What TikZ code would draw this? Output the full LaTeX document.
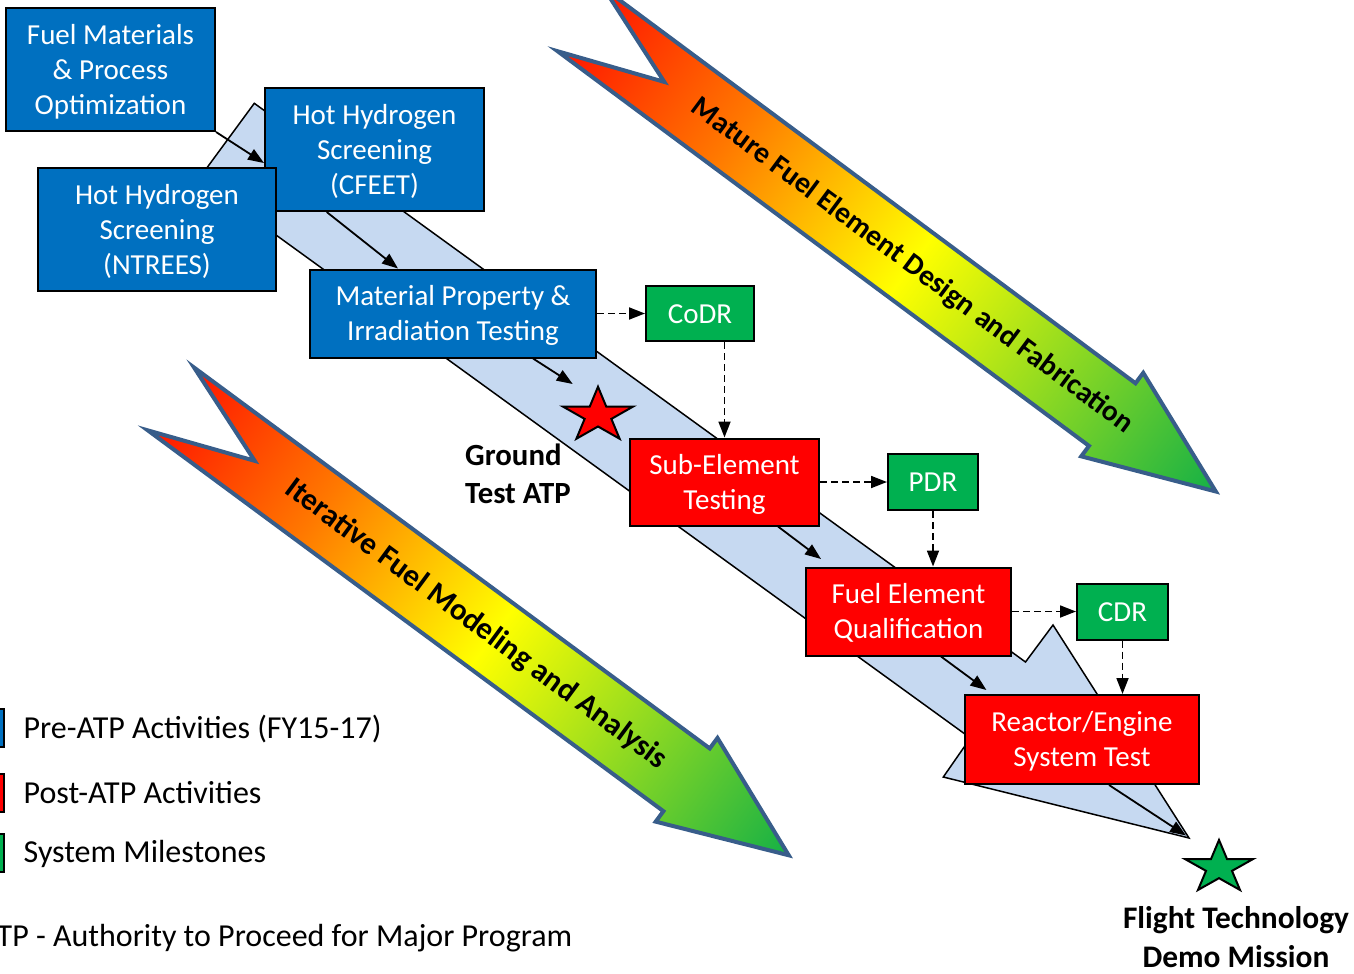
\documentclass[tikz,border=0pt]{standalone}
\usepackage{fontspec}
\setmainfont{Carlito}
\usetikzlibrary{arrows.meta,calc}

\definecolor{boxblue}{RGB}{0,112,192}
\definecolor{boxred}{RGB}{255,0,0}
\definecolor{boxgreen}{RGB}{0,176,80}
\definecolor{bandblue}{RGB}{198,217,241}
\definecolor{arrowedge}{RGB}{56,93,138}
\definecolor{gA}{RGB}{255,20,0}
\definecolor{gB}{RGB}{255,120,0}
\definecolor{gC}{RGB}{255,255,0}
\definecolor{gD}{RGB}{20,176,70}

\pgfdeclarehorizontalshading{fuelgrad}{100bp}{color(0bp)=(gA); color(25bp)=(gA); color(37bp)=(gB); color(51bp)=(gC); color(75bp)=(gD); color(100bp)=(gD)}

\newcommand\boxfont{\fontsize{29}{35}\selectfont}
\newcommand\bstrut{\rule[-8pt]{0pt}{35pt}}
\newcommand\legfont{\fontsize{32}{38}\selectfont}
\newcommand\gfont{\fontsize{30.8}{38.3}\selectfont\bfseries}
\newcommand\gstrut{\rule[-9pt]{0pt}{38.3pt}}
\newcommand\ffont{\fontsize{31.4}{38.5}\selectfont\bfseries}
\newcommand\fstrut{\rule[-9pt]{0pt}{38.5pt}}

\tikzset{
  box/.style={draw=black, line width=2pt, text=white, font=\boxfont, align=center, inner sep=0pt},
  bluebox/.style={box, fill=boxblue},
  redbox/.style={box, fill=boxred},
  greenbox/.style={box, fill=boxgreen},
  conn/.style={line width=1.8pt, -{Triangle[length=16pt,width=12pt]}},
  dconn/.style={conn, dash pattern=on 7pt off 4pt},
  fuelarrow/.style={shading=fuelgrad, draw=arrowedge, line width=4pt, line join=miter, miter limit=10},
  starshape/.style={draw=black, line width=2pt, line join=miter},
  legbox/.style={draw=black, line width=2pt, minimum width=38pt, minimum height=38pt, inner sep=0pt},
}

\begin{document}
\begin{tikzpicture}[x=1pt,y=-1pt]
\useasboundingbox (0,0) rectangle (1354,974);

% Mature Fuel Element Design and Fabrication arrow
\begin{scope}[transform canvas={shift={(580.8,19.9)}, rotate=-36.6}]
  \shade[fuelarrow] (0,-39) -- (662,-39) -- (662,-52) -- (791,0) -- (662,52) -- (662,39) -- (0,39) -- (104,0) -- cycle;
  \node[font=\fontsize{29.5}{35}\selectfont\bfseries, inner sep=0pt] (mftext) at (412.7,0) {Mature Fuel Element Design and Fabrication};
\end{scope}

% Iterative Fuel Modeling and Analysis arrow
\begin{scope}[transform canvas={shift={(171,399)}, rotate=-36.45}]
  \shade[fuelarrow] (0,-39) -- (641,-39) -- (641,-52) -- (768,0) -- (641,52) -- (641,39) -- (0,39) -- (104,0) -- cycle;
  \node[font=\fontsize{31}{36}\selectfont\bfseries, inner sep=0pt] (iftext) at (379.5,0) {Iterative Fuel Modeling and Analysis};
\end{scope}

% light blue process band
\draw[fill=bandblue, line width=1.5pt, line join=miter] (254.3,103.3) -- (1025.5,662) -- (1053,625) -- (1189,838) -- (943.3,777) -- (970.4,738) -- (198.7,179) -- cycle;

% boxes
\node[bluebox, minimum width=209pt, minimum height=123pt] (fm) at (110.5,69.5) {\bstrut Fuel Materials\\\bstrut \& Process\\\bstrut Optimization};
\node[bluebox, minimum width=219pt, minimum height=123pt] (cf) at (374.5,149.5) {\bstrut Hot Hydrogen\\\bstrut Screening\\\bstrut (CFEET)};
\node[bluebox, minimum width=238pt, minimum height=123pt] (nt) at (157,229.5) {\bstrut Hot Hydrogen\\\bstrut Screening\\\bstrut (NTREES)};
\node[bluebox, minimum width=286pt, minimum height=88pt] (mp) at (453,313.5) {\bstrut Material Property \&\\\bstrut Irradiation Testing};
\node[greenbox, minimum width=108pt, minimum height=55pt] (codr) at (700,313.5) {\bstrut CoDR};
\node[redbox, minimum width=189pt, minimum height=87pt] (se) at (724.5,482) {\bstrut Sub-Element\\\bstrut Testing};
\node[greenbox, minimum width=90pt, minimum height=56pt] (pdr) at (933,482) {\bstrut PDR};
\node[redbox, minimum width=205pt, minimum height=88pt] (fe) at (908.5,611.5) {\bstrut Fuel Element\\\bstrut Qualification};
\node[greenbox, minimum width=91pt, minimum height=56pt] (cdr) at (1122.5,611.5) {\bstrut CDR};
\node[redbox, minimum width=234pt, minimum height=89pt] (rx) at (1082,739.5) {\bstrut Reactor/Engine\\\bstrut System Test};

% solid flow connectors
\coordinate (e3) at (572.7,384);
\coordinate (e4) at (821,559);
\coordinate (e5) at (986.4,690);
\coordinate (e6) at (1186,835.5);
\draw[conn] (fm.south east) -- ([yshift=-13.5pt]cf.west);
\draw[conn] ([xshift=62.7pt]cf.south west) -- ([xshift=89pt]mp.north west);
\draw[conn] ([xshift=224pt]mp.south west) -- (e3);
\draw[conn] ([xshift=149pt]se.south west) -- (e4);
\draw[conn] ([xshift=136pt]fe.south west) -- (e5);
\draw[conn] ([xshift=145pt]rx.south west) -- (e6);

% dashed milestone connectors
\draw[dconn] (mp.east) -- (codr.west);
\draw[dconn] (codr.south -| se.north) -- (se.north);
\draw[dconn] (se.east) -- (pdr.west);
\draw[dconn] (pdr.south) -- (pdr.south |- fe.north);
\draw[dconn] (fe.east) -- (cdr.west);
\draw[dconn] (cdr.south) -- (cdr.south |- rx.north);

% stars
\begin{scope}[shift={(598,415.5)}, yscale=0.781]
  \draw[starshape, fill=red] (-90:36.8) -- (-54:14.06) -- (-18:36.8) -- (18:14.06) -- (54:36.8) -- (90:14.06) -- (126:36.8) -- (162:14.06) -- (198:36.8) -- (234:14.06) -- cycle;
\end{scope}
\begin{scope}[shift={(1219,867.6)}, yscale=0.773]
  \draw[starshape, fill=boxgreen] (-90:35.75) -- (-54:13.66) -- (-18:35.75) -- (18:13.66) -- (54:35.75) -- (90:13.66) -- (126:35.75) -- (162:13.66) -- (198:35.75) -- (234:13.66) -- cycle;
\end{scope}

% labels
\node[anchor=north west, inner sep=0pt, align=left, font=\gfont] (gatp) at (465,435.7) {\gstrut Ground\\\gstrut Test ATP};
\node[anchor=north, inner sep=0pt, align=center, font=\ffont] (flight) at (1236,898.8) {\fstrut Flight Technology\\\fstrut Demo Mission};

% legend
\node[legbox, fill=boxblue] (lgb) at (-15,728) {};
\node[legbox, fill=boxred] (lgr) at (-15,793) {};
\node[legbox, fill=boxgreen] (lgg) at (-15,853) {};
\node[anchor=base west, inner sep=0pt, font=\legfont] (l1) at (23.5,738.3) {Pre-ATP Activities (FY15-17)};
\node[anchor=base west, inner sep=0pt, font=\legfont] (l2) at (23.5,803.3) {Post-ATP Activities};
\node[anchor=base west, inner sep=0pt, font=\legfont] (l3) at (23.5,862.7) {System Milestones};
\node[anchor=base west, inner sep=0pt, font=\legfont] (l4) at (-3.5,946.7) {TP - Authority to Proceed for Major Program};
\end{tikzpicture}
\end{document}
